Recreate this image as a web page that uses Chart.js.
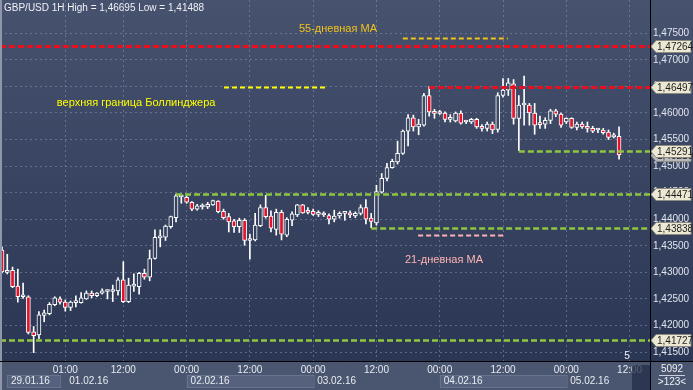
<!DOCTYPE html>
<html>
<head>
<meta charset="utf-8">
<script src="https://cdn.jsdelivr.net/npm/chart.js@4.4.1/dist/chart.umd.min.js"></script>
<style>
  html, body { margin: 0; padding: 0; background: #2f3b57; }
  #wrap { width: 693px; height: 390px; }
</style>
</head>
<body>
<div id="wrap"><canvas id="fxChart" width="693" height="390"></canvas></div>
<script>
// GBP/USD 1H, 29.01.16 12:00 .. 05.02.16 10:00
const opens = [
  1.4342,1.4300,1.4304,1.4274,1.4254,1.4254,1.4188,1.4182,1.4219,1.4222,
  1.4239,1.4250,1.4244,1.4234,1.4243,1.4243,1.4250,1.4261,1.4256,1.4261,
  1.4264,1.4264,1.4265,1.4286,1.4245,1.4274,1.4273,1.4298,1.4291,1.4326,
  1.4365,1.4366,1.4386,1.4403,1.4442,1.4441,1.4432,1.4419,1.4423,1.4423,
  1.4427,1.4434,1.4415,1.4405,1.4397,1.4386,1.4398,1.4360,1.4361,1.4388,
  1.4422,1.4406,1.4381,1.4413,1.4370,1.4398,1.4408,1.4427,1.4414,1.4415,
  1.4409,1.4409,1.4407,1.4400,1.4406,1.4411,1.4412,1.4406,1.4411,1.4422,
  1.4402,1.4393,1.4451,1.4477,1.4497,1.4508,1.4524,1.4566,1.4591,1.4574,
  1.4577,1.4633,1.4603,1.4599,1.4600,1.4588,1.4585,1.4600,1.4583,1.4583,
  1.4588,1.4575,1.4571,1.4579,1.4569,1.4633,1.4643,1.4655,1.4590,1.4615,
  1.4615,1.4600,1.4579,1.4579,1.4586,1.4604,1.4598,1.4583,1.4590,1.4573,
  1.4579,1.4575,1.4571,1.4568,1.4568,1.4564,1.4555,1.4556
];
const highs = [
  1.4348,1.4334,1.4310,1.4306,1.4280,1.4256,1.4198,1.4226,1.4229,1.4243,
  1.4254,1.4254,1.4248,1.4246,1.4256,1.4262,1.4265,1.4265,1.4262,1.4269,
  1.4267,1.4276,1.4290,1.4320,1.4289,1.4297,1.4300,1.4306,1.4342,1.4380,
  1.4380,1.4389,1.4406,1.44471,1.4445,1.4444,1.4433,1.4428,1.4429,1.4432,
  1.4436,1.4435,1.4419,1.4411,1.4400,1.4402,1.4401,1.4372,1.4411,1.4427,
  1.4445,1.4416,1.4419,1.4417,1.4403,1.4414,1.4428,1.4428,1.4422,1.4419,
  1.4416,1.4414,1.4410,1.4417,1.4414,1.4413,1.4416,1.4414,1.4427,1.4437,
  1.4411,1.4464,1.4486,1.4505,1.4513,1.4547,1.4568,1.4597,1.4596,1.4588,
  1.4637,1.46497,1.4607,1.4605,1.4602,1.4597,1.4602,1.4604,1.4586,1.4590,
  1.4590,1.4578,1.4583,1.4583,1.4638,1.4665,1.4665,1.4663,1.4633,1.46695,
  1.4618,1.4618,1.4594,1.4591,1.4607,1.4607,1.4600,1.4591,1.4591,1.4583,
  1.4583,1.4583,1.4575,1.4571,1.4571,1.4568,1.4562,1.4574
];
const lows = [
  1.4299,1.4297,1.4271,1.4244,1.4251,1.4184,1.41488,1.4175,1.4207,1.4220,
  1.4237,1.4240,1.4227,1.4228,1.4235,1.4242,1.4249,1.4252,1.4254,1.4259,
  1.4250,1.4245,1.4257,1.4243,1.4243,1.4264,1.4259,1.4287,1.4284,1.4325,
  1.4348,1.4360,1.4383,1.4395,1.4430,1.4430,1.4416,1.4417,1.4419,1.4420,
  1.4426,1.4412,1.4400,1.4376,1.4375,1.4375,1.4351,1.4325,1.4359,1.4386,
  1.4402,1.4376,1.4370,1.4361,1.4367,1.4388,1.4405,1.4411,1.4410,1.4407,
  1.4405,1.4405,1.4391,1.4395,1.4402,1.4398,1.4403,1.4403,1.4408,1.4391,
  1.43838,1.4389,1.4449,1.4472,1.4496,1.4504,1.4522,1.4538,1.4566,1.4559,
  1.4575,1.4594,1.4590,1.4597,1.4583,1.4583,1.4583,1.4579,1.4580,1.4580,
  1.4571,1.4566,1.4566,1.4561,1.4564,1.4630,1.4633,1.4579,1.45291,1.4577,
  1.4577,1.4560,1.4571,1.4571,1.4580,1.4593,1.4573,1.4580,1.4571,1.4568,
  1.4571,1.4564,1.4563,1.4563,1.4560,1.4550,1.4553,1.4513
];
const closes = [
  1.4301,1.4303,1.4273,1.4254,1.4255,1.4187,1.4181,1.4220,1.4224,1.4240,
  1.4252,1.4244,1.4234,1.4244,1.4244,1.4252,1.4261,1.4256,1.4261,1.4265,
  1.4265,1.4265,1.4286,1.4245,1.4276,1.4275,1.4298,1.4291,1.4326,1.4366,
  1.4366,1.4387,1.4405,1.4444,1.4444,1.4432,1.4419,1.4425,1.4424,1.4428,
  1.4435,1.4414,1.4403,1.4395,1.4386,1.4398,1.4360,1.4363,1.4389,1.4422,
  1.4405,1.4383,1.4413,1.4372,1.4400,1.4410,1.4427,1.4412,1.4413,1.4409,
  1.4410,1.4408,1.4400,1.4406,1.4411,1.4412,1.4408,1.4411,1.4422,1.4400,
  1.4396,1.4452,1.4477,1.4497,1.4509,1.4524,1.4566,1.4591,1.4574,1.4579,
  1.4633,1.4602,1.4599,1.4602,1.4588,1.4589,1.4600,1.4581,1.4584,1.4588,
  1.4574,1.4571,1.4579,1.4568,1.4633,1.4643,1.4657,1.4590,1.4615,1.4616,
  1.4600,1.4577,1.4578,1.4586,1.4604,1.4598,1.4577,1.4590,1.4573,1.4579,
  1.4574,1.4571,1.4566,1.4569,1.4563,1.4554,1.4556,1.4521
];

// hourly categories (the last day runs on a few empty hours)
const days = ['29.01.16', '01.02.16', '02.02.16', '03.02.16', '04.02.16', '05.02.16'];
const dayFirstHour = [12, 1, 0, 0, 0, 0];
const dayLastHour = [23, 23, 23, 23, 23, 15];

const priceTicks = [1.415, 1.42, 1.425, 1.43, 1.435, 1.44, 1.445, 1.45, 1.455, 1.46, 1.465, 1.47, 1.475];

// support / resistance levels and the candle they start from (-1 = from the left edge)
const levelValues = [1.47264, 1.46497, 1.45291, 1.44471, 1.43838, 1.41727];
const levelFrom = [-1, 81, 98, 33, 70, -1];
const levelColors = ['#e8101e', '#e8101e', '#8ec63f', '#8ec63f', '#8ec63f', '#8ec63f'];

// text notes: [candle index, price] for the text, [from, to, price] for its short line
const noteTexts = ['55-дневная MA', 'верхняя граница Боллинджера', '21-дневная MA'];
const noteColors = ['#f2c21b', '#ffff00', '#ffb4b4'];
const noteTextAt = [[56.3, 1.47581], [10.4, 1.46188], [76.4, 1.43232]];
const noteLineAt = [[76, 95.9, 1.47417], [42.1, 61.8, 1.46489], [78.9, 95, 1.43703]];

const hourLabels = [];
const dayStart = [];
days.forEach((d, k) => {
  dayStart.push(hourLabels.length);
  for (let h = dayFirstHour[k]; h <= dayLastHour[k]; h++) {
    hourLabels.push(String(h).padStart(2, '0') + ':00');
  }
});
const timeTicks = [];
hourLabels.forEach((l, i) => {
  const h = parseInt(l, 10);
  if (i >= dayStart[1] && (h % 12 === 0 || i === dayStart[1])) timeTicks.push(i);
});

const FONT = "'Liberation Sans', Arial, sans-serif";
Chart.defaults.font.family = FONT;

const canvas = document.getElementById('fxChart');
const ctx = canvas.getContext('2d');
const bgGrad = ctx.createLinearGradient(0, 0, 0, 361);
bgGrad.addColorStop(0, '#46526e');
bgGrad.addColorStop(1, '#2a3653');

const fmt = v => v.toFixed(5).replace('.', ',');

function drawTag(c, y, text, fill) {
  c.beginPath();
  c.moveTo(651, y);
  c.lineTo(656, y - 6);
  c.lineTo(691, y - 6);
  c.lineTo(691, y + 6);
  c.lineTo(656, y + 6);
  c.closePath();
  c.fillStyle = fill;
  c.fill();
  c.strokeStyle = '#8a8a80';
  c.lineWidth = 1;
  c.stroke();
  c.fillStyle = '#1e1e1e';
  c.font = '10px ' + FONT;
  c.textAlign = 'left';
  c.textBaseline = 'middle';
  c.fillText(text, 657, y + 0.5);
}

const fxDecor = {
  id: 'fxDecor',
  beforeDraw(chart) {
    const c = chart.ctx;
    const x = chart.scales.x;
    c.save();
    c.fillStyle = bgGrad;
    c.fillRect(0, 0, 693, 361);
    c.fillStyle = '#4a556f';
    c.fillRect(0, 361, 693, 29);
    // date boxes
    days.forEach((d, k) => {
      const x0 = Math.max(x.getPixelForValue(dayStart[k]), 7);
      const x1 = k === 0 ? x.getPixelForValue(dayStart[1] - 1)
        : (k < days.length - 1 ? x.getPixelForValue(dayStart[k + 1]) : 650);
      if (k % 2 === 0) {
        c.fillStyle = '#56627d';
        c.fillRect(x0, 375, x1 - x0, 13);
        c.strokeStyle = '#67728c';
        c.strokeRect(Math.round(x0) + 0.5, 375.5, x1 - x0, 12);
      }
      c.fillStyle = '#e8ecf3';
      c.font = '10px ' + FONT;
      c.textBaseline = 'middle';
      c.fillText(d, x0 + 4, 381.5);
    });
    c.restore();
  },
  afterDatasetsDraw(chart) {
    const c = chart.ctx;
    const x = chart.scales.x, y = chart.scales.y;
    const area = chart.chartArea;
    c.save();
    c.beginPath();
    c.rect(area.left, area.top, area.right - area.left, area.bottom - area.top);
    c.clip();
    levelValues.forEach((v, k) => {
      const py = Math.round(y.getPixelForValue(v)) + 0.5;
      const px = levelFrom[k] < 0 ? area.left : x.getPixelForValue(levelFrom[k]);
      c.strokeStyle = levelColors[k];
      c.lineWidth = k < 2 ? 3 : 2.5;
      c.setLineDash([6, 3]);
      c.beginPath();
      c.moveTo(px, py);
      c.lineTo(area.right, py);
      c.stroke();
    });
    noteLineAt.forEach((n, k) => {
      const py = Math.round(y.getPixelForValue(n[2])) + 0.5;
      c.strokeStyle = noteColors[k];
      c.lineWidth = 2;
      c.setLineDash([5, 3]);
      c.beginPath();
      c.moveTo(x.getPixelForValue(n[0]), py);
      c.lineTo(x.getPixelForValue(n[1]), py);
      c.stroke();
    });
    c.restore();
  },
  afterDraw(chart) {
    const c = chart.ctx;
    const x = chart.scales.x, y = chart.scales.y;
    c.save();
    // note texts
    c.font = '11px ' + FONT;
    c.textAlign = 'left';
    c.textBaseline = 'middle';
    noteTexts.forEach((t, k) => {
      c.fillStyle = noteColors[k];
      c.fillText(t, x.getPixelForValue(noteTextAt[k][0]), y.getPixelForValue(noteTextAt[k][1]));
    });
    // title
    c.font = '10px ' + FONT;
    c.fillStyle = '#eef1f6';
    c.fillText('GBP/USD 1H High = ' + fmt(Math.max(...highs)) + ' Low = ' + fmt(Math.min(...lows)), 4, 8);
    // price tags on the axis
    const last = closes[closes.length - 1];
    drawTag(c, y.getPixelForValue(last) + 0.5, fmt(last), '#b9bcc0');
    levelValues.forEach(v => drawTag(c, Math.round(y.getPixelForValue(v)) + 0.5, fmt(v), '#ece8d4'));
    // frame lines
    c.fillStyle = '#8e97aa';
    c.fillRect(0, 0, 2, 390);
    c.strokeStyle = '#000000';
    c.lineWidth = 1;
    c.setLineDash([]);
    c.beginPath();
    c.moveTo(650.5, 0); c.lineTo(650.5, 390);
    c.moveTo(0, 361.5); c.lineTo(693, 361.5);
    c.stroke();
    // scroll marker and bar counter
    c.fillStyle = 'rgba(36,46,72,0.75)';
    c.fillRect(632, 365, 18, 25);
    c.fillStyle = '#eef1f6';
    c.font = '10px ' + FONT;
    c.textAlign = 'center';
    c.fillText('5', 627, 356);
    c.fillText('5092', 672, 369);
    c.fillText('>123<', 672, 382);
    c.strokeStyle = '#c8cedb';
    c.beginPath();
    c.moveTo(659, 375.5); c.lineTo(685, 375.5);
    c.stroke();
    c.restore();
  }
};

const bullish = closes.map((cl, i) => cl >= opens[i]);

new Chart(ctx, {
  type: 'bar',
  data: {
    datasets: [{
      label: 'body',
      data: opens.map((o, i) => ({ x: i, y: [o, closes[i]] })),
      backgroundColor: bullish.map(b => b ? bgGrad : '#e5122b'),
      borderColor: '#ffffff',
      borderWidth: 1,
      borderSkipped: false,
      barThickness: 4,
      minBarLength: 2,
      grouped: false,
      order: 0
    }, {
      label: 'wick',
      data: lows.map((l, i) => ({ x: i, y: [l, highs[i]] })),
      backgroundColor: '#ffffff',
      borderWidth: 0,
      barThickness: 1,
      grouped: false,
      order: 1
    }]
  },
  options: {
    responsive: false,
    devicePixelRatio: 1,
    animation: false,
    layout: { padding: 0 },
    plugins: { legend: { display: false }, tooltip: { enabled: false } },
    scales: {
      x: {
        type: 'linear',
        min: -0.38,
        max: 122.87,
        offset: false,
        afterBuildTicks: s => { s.ticks = timeTicks.map(v => ({ value: v })); },
        afterFit: s => { s.height = 29; s.paddingLeft = 0; s.paddingRight = 0; },
        ticks: {
          autoSkip: false,
          maxRotation: 0,
          color: '#e6eaf2',
          font: { size: 10 },
          padding: 3,
          callback: v => hourLabels[v]
        },
        grid: { offset: false, color: 'rgba(150,165,195,0.45)', drawTicks: false },
        border: { display: false, dash: [2, 3] }
      },
      y: {
        position: 'right',
        min: 1.41331,
        max: 1.48127,
        afterBuildTicks: s => { s.ticks = priceTicks.map(v => ({ value: v })); },
        afterFit: s => { s.width = 43; s.paddingTop = 0; s.paddingBottom = 0; },
        ticks: {
          color: '#e0e5ee',
          font: { size: 10 },
          padding: 3,
          callback: v => fmt(v)
        },
        grid: { color: 'rgba(150,165,195,0.45)', drawTicks: false },
        border: { display: false, dash: [2, 3] }
      }
    }
  },
  plugins: [fxDecor]
});
</script>
</body>
</html>
